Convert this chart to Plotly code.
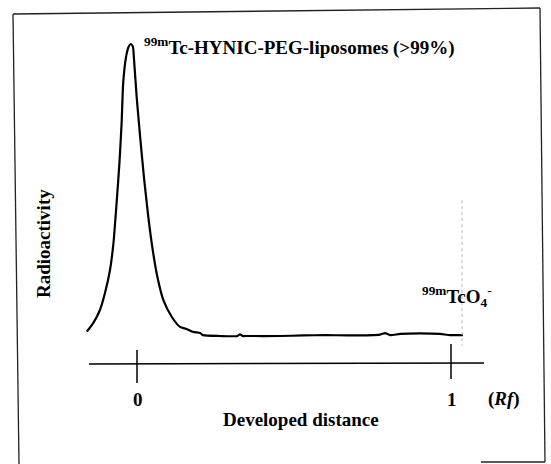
import plotly.graph_objects as go

# ---- data ----
rf = [-0.160, -0.139, -0.118, -0.102, -0.086, -0.075, -0.065, -0.056, -0.049,
      -0.044, -0.035, -0.027, -0.020, -0.013, -0.010, -0.001, 0.010, 0.022,
      0.036, 0.050, 0.065, 0.084, 0.111, 0.137, 0.158, 0.179, 0.201, 0.210,
      0.264, 0.320, 0.328, 0.336, 0.344, 0.455, 0.530, 0.600, 0.678, 0.774,
      0.790, 0.806, 0.838, 0.901, 0.965, 0.997, 1.038]
radioactivity = [1.5, 4.5, 8.9, 14.7, 22.6, 31.8, 45.5, 59.2, 72.9,
                 86.6, 95.5, 99.0, 100.0, 99.0, 95.5, 81.8, 68.2, 54.5,
                 40.8, 29.5, 20.2, 12.3, 6.5, 3.1, 2.4, 1.4, 1.0, 0.3,
                 0.0, 0.0, 0.6, 0.0, 0.0, 0.0, 0.2, 0.3, 0.2, 0.5,
                 1.0, 0.3, 0.7, 0.9, 0.7, 0.3, 0.3]
tick_vals = [0, 1]
tick_text = ["0", "1"]
peak_label = "<sup>99m</sup>Tc-HYNIC-PEG-liposomes (>99%)"
free_label = "<sup>99m</sup>TcO<sub>4</sub><sup>-</sup>"
x_title = "Developed distance"
y_title = "Radioactivity"
unit_label = "(<i>Rf</i>)"

W, H = 551, 464
FONT = "Liberation Serif"
FS = 19

def px(x):
    return x / W

def py(y):
    return 1 - y / H

fig = go.Figure()
fig.add_trace(go.Scatter(x=rf, y=radioactivity, mode="lines",
                         line=dict(color="black", width=2.2, shape="spline", smoothing=0.6),
                         hoverinfo="skip", showlegend=False))

shapes = []
# outer frame (scanned figure border)
frame = [((13, 14), (540, 8)), ((13, 14), (19, 464)), ((540, 8), (545, 462)),
         ((481, 462), (545, 462))]
for (xa, ya), (xb, yb) in frame:
    shapes.append(dict(type="line", xref="paper", yref="paper",
                       x0=px(xa), y0=py(ya), x1=px(xb), y1=py(yb),
                       line=dict(color="#222222", width=1.3)))
# faint dotted vertical trace near Rf 1
shapes.append(dict(type="line", xref="paper", yref="paper",
                   x0=px(462), y0=py(200), x1=px(462), y1=py(346),
                   line=dict(color="#bbbbbb", width=1, dash="dot")))
# developed-distance axis line
shapes.append(dict(type="line", xref="paper", yref="paper",
                   x0=px(89), y0=py(364), x1=px(484), y1=py(363),
                   line=dict(color="black", width=1.5)))
# tick marks crossing the axis line
tick_span = {0: (350, 383), 1: (344, 379)}
for v in tick_vals:
    t0, t1 = tick_span[v]
    shapes.append(dict(type="line", xref="x", yref="paper",
                       x0=v, x1=v, y0=py(t0), y1=py(t1),
                       line=dict(color="black", width=1.5)))

def ann(x, y, text, xref="paper", xanchor="center", angle=0):
    return dict(x=x, xref=xref, y=py(y), yref="paper", text=f"<b>{text}</b>",
                xanchor=xanchor, yanchor="middle", textangle=angle, showarrow=False,
                font=dict(family=FONT, size=FS, color="black"))

annotations = []
for v, t in zip(tick_vals, tick_text):
    annotations.append(ann(v + 0.004, 399, t, xref="x"))
annotations += [
    ann(px(504), 399, unit_label),
    ann(px(301), 419, x_title),
    ann(px(43), 244, y_title, angle=-90),
    ann(px(142), 46, peak_label, xanchor="left"),
    ann(px(420), 296, free_label, xanchor="left"),
]

# axis ranges so that Rf 0 -> x 137 px, Rf 1 -> x 451 px; value 0 -> y 336 px, 100 -> y 44 px
x_per_unit = 451 - 137
x0 = -137 / x_per_unit
x1 = x0 + W / x_per_unit
y_per_unit = (336 - 44) / 100
y0 = -(H - 336) / y_per_unit
y1 = y0 + H / y_per_unit

fig.update_layout(
    width=W, height=H, margin=dict(l=0, r=0, t=0, b=0),
    paper_bgcolor="white", plot_bgcolor="white",
    xaxis=dict(range=[x0, x1], visible=False, fixedrange=True),
    yaxis=dict(range=[y0, y1], visible=False, fixedrange=True),
    shapes=shapes, annotations=annotations, showlegend=False,
)
fig.write_html("out.html")
